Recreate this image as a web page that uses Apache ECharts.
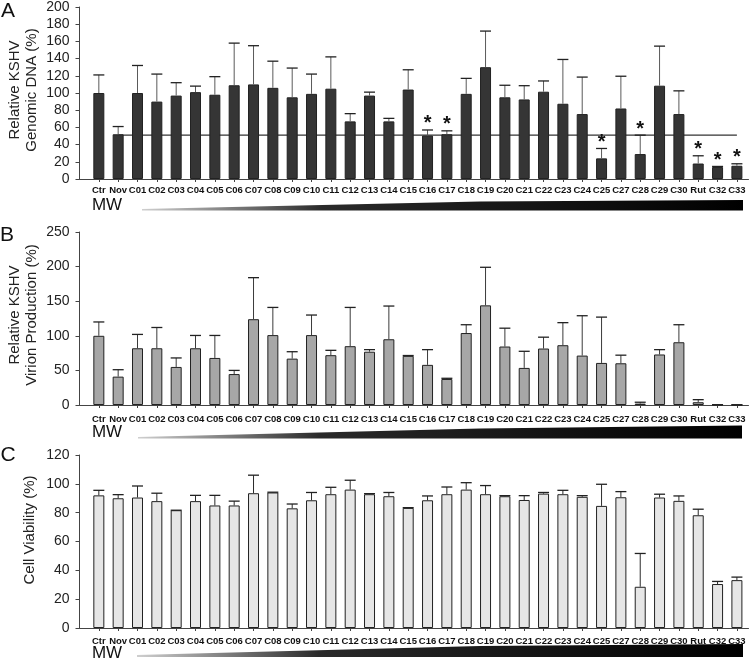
<!DOCTYPE html>
<html>
<head>
<meta charset="utf-8">
<script src="https://cdn.jsdelivr.net/npm/echarts@6/dist/echarts.min.js"></script>
<style>
  html, body { margin: 0; padding: 0; background: #fff; }
  #chart { width: 750px; height: 662px; }
</style>
</head>
<body>
<div id="chart"></div>
<script>
// categories along the x axis (same for all three panels)
const categories = ['Ctr', 'Nov', 'C01', 'C02', 'C03', 'C04', 'C05', 'C06', 'C07', 'C08', 'C09', 'C10',
  'C11', 'C12', 'C13', 'C14', 'C15', 'C16', 'C17', 'C18', 'C19', 'C20', 'C21', 'C22', 'C23', 'C24',
  'C25', 'C27', 'C28', 'C29', 'C30', 'Rut', 'C32', 'C33']

// A: relative KSHV genomic DNA (%) and upper error
const dnaValues = [100, 52, 100, 90, 97, 101, 98, 109, 110, 106, 95, 99, 105, 67, 97, 67, 104, 50.5, 52,
  99, 130, 95, 92.5, 101.5, 87.5, 75.5, 24, 82, 29, 108.5, 75.5, 18, 14, 15.4]
const dnaErr = [21, 9, 32, 32, 15, 7, 21, 49, 45, 31, 34, 23, 37, 9, 4, 3.5, 23, 6.5, 4,
  18, 42, 14, 16, 12.5, 51.5, 43, 11.5, 37.5, 22, 46, 27, 9, 0.6, 2.3]
const dnaStars = ['C16', 'C17', 'C25', 'C28', 'Rut', 'C32', 'C33']
const dnaRefLine = 51

// B: relative KSHV virion production (%)
const virionValues = [100, 41, 82, 82, 55, 82, 68, 44.7, 124, 101, 67, 101, 72, 85, 77, 95, 71, 58, 37.6,
  104, 144, 84.5, 53.6, 81.6, 86.4, 71.4, 60.8, 60.3, 2, 73, 90.7, 4, 0.5, 0.3]
const virionErr = [20, 10, 20, 30, 13, 18.5, 32.5, 5.3, 60, 40, 10, 29, 7, 56, 3, 48, 0.5, 22, 1,
  12, 55, 26.5, 24, 16.4, 32.6, 57.6, 66.2, 11.7, 2, 7, 25.3, 3.7, 0, 0]

// C: cell viability (%)
const viabilityValues = [92, 90, 90.5, 88, 81.7, 88, 85, 85, 93.5, 94, 83, 88.6, 92.8, 96, 92.8, 91.4, 83.3,
  88.6, 92.8, 96, 92.8, 91.4, 88.8, 93.2, 92.8, 91, 84.7, 90.7, 28.6, 90.5, 88.2, 78.2, 30.5, 33.2]
const viabilityErr = [3.5, 2.5, 8, 5.5, 0, 4, 7, 3, 12.5, 0.2, 3, 5.4, 4.8, 6.5, 0.4, 2.6, 0.2,
  3, 5, 4.8, 6, 0.4, 3, 0.8, 2.7, 0.8, 15, 3.9, 23.1, 2.3, 3.4, 4.2, 1.8, 2.1]

const dnaTicks = [0, 200, 20]
const virionTicks = [0, 250, 50]
const viabilityTicks = [0, 120, 20]

const chart = echarts.init(document.getElementById('chart'))
const font = 'Liberation Sans'
const idx = categories.map((c, i) => i)

const panels = [
  { top: 6, ticks: dnaTicks, values: dnaValues, err: dnaErr, stars: dnaStars,
    fill: '#353535', errColor: '#5a5a5a', labelMargin: 6 },
  { top: 232, ticks: virionTicks, values: virionValues, err: virionErr, stars: [],
    fill: '#a7a7a7', errColor: '#3a3a3a', labelMargin: 9 },
  { top: 455, ticks: viabilityTicks, values: viabilityValues, err: viabilityErr, stars: [],
    fill: '#e6e6e6', errColor: '#2a2a2a', labelMargin: 8 }
]

function errorBar(color) {
  return function (params, api) {
    const x = api.value(0), v = api.value(1), e = api.value(2), star = api.value(3)
    const base = api.coord([x, v])
    const top = api.coord([x, v + e])
    const children = [
      { type: 'line', shape: { x1: top[0], y1: base[1], x2: top[0], y2: top[1] },
        style: { stroke: color, lineWidth: 1 } },
      { type: 'line', shape: { x1: top[0] - 5.5, y1: top[1], x2: top[0] + 5.5, y2: top[1] },
        style: { stroke: '#222', lineWidth: 1.3 } }
    ]
    if (star) {
      children.push({ type: 'text', x: top[0], y: top[1] - 6,
        style: { text: '*', font: 'bold 20px ' + font, align: 'center', verticalAlign: 'middle', fill: '#111' } })
    }
    return { type: 'group', children: children }
  }
}

const grid = [], xAxis = [], yAxis = [], series = []
panels.forEach((p, k) => {
  grid.push({ left: 79.5, width: 669, top: p.top, height: 173 })
  xAxis.push({
    type: 'value', gridIndex: k, min: -1, max: 33.6,
    splitLine: { show: false },
    axisLine: { onZero: false, lineStyle: { color: '#444', width: 1 } },
    axisTick: { customValues: idx, length: 3, lineStyle: { color: '#444' } },
    axisLabel: { customValues: idx, formatter: v => categories[v], margin: p.labelMargin,
      fontFamily: font, fontSize: 9.5, fontWeight: 'bold', color: '#111' }
  })
  yAxis.push({
    type: 'value', gridIndex: k, min: p.ticks[0], max: p.ticks[1], interval: p.ticks[2],
    splitLine: { show: false },
    axisLine: { show: true, onZero: false, lineStyle: { color: '#444', width: 1 } },
    axisTick: { show: true, length: 4, lineStyle: { color: '#444' } },
    axisLabel: { margin: 10, fontFamily: font, fontSize: 14, color: '#222' }
  })
  if (k === 0) {
    series.push({
      type: 'line', xAxisIndex: 0, yAxisIndex: 0, z: 1, symbol: 'none', silent: true,
      data: [[1, dnaRefLine], [categories.length - 1, dnaRefLine]],
      lineStyle: { color: '#333', width: 1.2 }
    })
  }
  series.push({
    type: 'bar', xAxisIndex: k, yAxisIndex: k, z: 2, barWidth: 11,
    data: p.values.map((v, i) => [i, v]),
    itemStyle: { color: p.fill, borderColor: '#222', borderWidth: 1 }
  })
  series.push({
    type: 'custom', xAxisIndex: k, yAxisIndex: k, z: 3,
    renderItem: errorBar(p.errColor),
    data: p.values.map((v, i) => [i, v, p.err[i], p.stars.includes(categories[i]) ? 1 : 0])
  })
})

// MW wedge under each panel: thin on the left, thick on the right
function wedge(pts, bottom) {
  const xs = pts.map(q => q[0])
  return {
    type: 'polygon', silent: true,
    shape: { points: pts.concat([[xs[xs.length - 1], bottom], [xs[0], bottom]]) },
    style: { fill: new echarts.graphic.LinearGradient(0, 0, 1, 0, [
      { offset: 0, color: '#cfcfcf' }, { offset: 0.3, color: '#2a2a2a' }, { offset: 1, color: '#000' }]) }
  }
}

function label(text, x, y, size) {
  return { type: 'text', x: x, y: y,
    style: { text: text, font: size + 'px ' + font, fill: '#111', align: 'center', verticalAlign: 'middle' } }
}

function axisName(text, x, y) {
  return { type: 'text', x: x, y: y, rotation: Math.PI / 2,
    style: { text: text, font: '15px ' + font, fill: '#222', align: 'center', verticalAlign: 'middle', lineHeight: 17 } }
}

chart.setOption({
  animation: false,
  grid: grid,
  xAxis: xAxis,
  yAxis: yAxis,
  series: series,
  graphic: [
    label('A', 8, 11, 21), label('B', 7, 235, 21), label('C', 8, 455, 21),
    axisName('Relative KSHV\nGenomic DNA (%)', 23, 90),
    axisName('Relative KSHV\nVirion Production (%)', 23, 315),
    axisName('Cell Viability (%)', 30, 530),
    label('MW', 107, 205, 17), label('MW', 107, 432, 17), label('MW', 107, 653, 17),
    wedge([[142, 209], [480, 201.5], [743, 200]], 210.5),
    wedge([[138, 437], [480, 428.5], [742, 425.5]], 438.5),
    wedge([[137, 655], [480, 646], [743, 644]], 657)
  ]
})
</script>
</body>
</html>
